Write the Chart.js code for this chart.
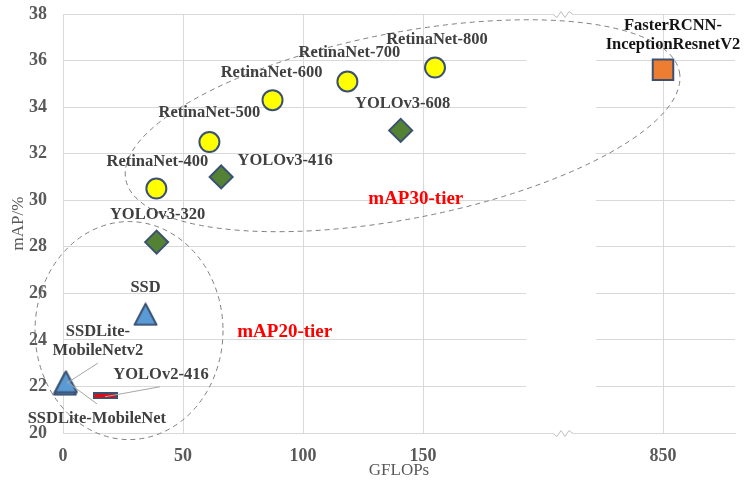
<!DOCTYPE html>
<html>
<head>
<meta charset="utf-8">
<script src="https://cdn.jsdelivr.net/npm/chart.js@4.4.0/dist/chart.umd.min.js"></script>
<style>
  html, body { margin: 0; padding: 0; background: #fff; }
  #wrap { width: 747px; height: 490px; }
</style>
</head>
<body>
<div id="wrap"><canvas id="chart"></canvas></div>
<script>
// data (GFLOPs, mAP %)
const retinaNames = ['RetinaNet-400', 'RetinaNet-500', 'RetinaNet-600', 'RetinaNet-700', 'RetinaNet-800'];
const retinaGflops = [38.9, 61, 87.3, 118.5, 155];
const retinaMap = [30.5, 32.5, 34.3, 35.1, 35.7];

const yolo3Names = ['YOLOv3-320', 'YOLOv3-416', 'YOLOv3-608'];
const yolo3Gflops = [39, 65.9, 140.7];
const yolo3Map = [28.2, 31.0, 33.0];

const ssdNames = ['SSD', 'SSDLite-MobileNetv2', 'SSDLite-MobileNet'];
const ssdGflops = [34.4, 0.8, 1.2];
const ssdMap = [25.1, 22.1, 22.2];

const yolo2Names = ['YOLOv2-416'];
const yolo2Gflops = [17.5];
const yolo2Map = [21.6];

const frcnnNames = ['FasterRCNN-InceptionResnetV2'];
const frcnnGflops = [850];
const frcnnMap = [35.6];

const xTicks = [0, 50, 100, 150, 850];
const yTicks = [20, 22, 24, 26, 28, 30, 32, 34, 36, 38];

// broken x axis: everything above 200 GFLOPs is shifted left
const BREAK_SHIFT = 600;
const GAP_FROM = 193, GAP_TO = 222;
const toAxis = g => g > 200 ? g - BREAK_SHIFT : g;

const SERIF = "'Liberation Serif', 'Times New Roman', serif";
const EDGE = '#3b5172';

// label placement, pixels relative to the point
const labelSpots = {
  'RetinaNet-400': { dx: 1, dy: -27 },
  'RetinaNet-500': { dx: 0, dy: -29 },
  'RetinaNet-600': { dx: -1, dy: -27 },
  'RetinaNet-700': { dx: 2, dy: -29 },
  'RetinaNet-800': { dx: 2, dy: -28 },
  'YOLOv3-320': { dx: 1, dy: -27 },
  'YOLOv3-416': { dx: 64, dy: -16 },
  'YOLOv3-608': { dx: 2, dy: -27 },
  'SSD': { dx: 0, dy: -27 },
  'SSDLite-MobileNetv2': { dx: 33, dy: -43, lines: ['SSDLite-', 'MobileNetv2'], lead: [33, -21, 2, -1] },
  'SSDLite-MobileNet': { dx: 31, dy: 37, lines: ['SSDLite-MobileNet'], lead: [1, 0, 31, 22] },
  'YOLOv2-416': { dx: 56, dy: -21, lead: [55, -9, 0, 1] },
  'FasterRCNN-InceptionResnetV2': { dx: 10, dy: -35, lines: ['FasterRCNN-', 'InceptionResnetV2'], color: '#151515' }
};

function markerCanvas(w, h, draw) {
  const c = document.createElement('canvas');
  c.width = w; c.height = h;
  draw(c.getContext('2d'), w, h);
  return c;
}

const triangle = markerCanvas(25, 24, (ctx, w, h) => {
  ctx.beginPath();
  ctx.moveTo(1.5, h - 1.5);
  ctx.lineTo(w / 2, 1.5);
  ctx.lineTo(w - 1.5, h - 1.5);
  ctx.closePath();
  ctx.fillStyle = '#5b9bd5';
  ctx.fill();
  ctx.lineWidth = 2;
  ctx.lineJoin = 'round';
  ctx.strokeStyle = EDGE;
  ctx.stroke();
});

const thinBar = markerCanvas(25, 7, (ctx, w, h) => {
  ctx.fillStyle = EDGE;
  ctx.fillRect(0, 0, w, h);
  ctx.fillStyle = '#ff0000';
  ctx.fillRect(2, 2, w - 4, h - 4);
});

const pts = (gf, mp) => gf.map((g, i) => ({ x: toAxis(g), y: mp[i] }));

const groups = [
  { names: retinaNames, data: pts(retinaGflops, retinaMap), pointStyle: 'circle', pointRadius: 10, backgroundColor: '#ffff00' },
  { names: yolo3Names, data: pts(yolo3Gflops, yolo3Map), pointStyle: 'rectRot', pointRadius: 11.5, backgroundColor: '#548235' },
  { names: ssdNames, data: pts(ssdGflops, ssdMap), pointStyle: triangle, pointRadius: 12, backgroundColor: '#5b9bd5' },
  { names: yolo2Names, data: pts(yolo2Gflops, yolo2Map), pointStyle: thinBar, pointRadius: 12, backgroundColor: '#ff0000' },
  { names: frcnnNames, data: pts(frcnnGflops, frcnnMap), pointStyle: 'rect', pointRadius: 14.5, backgroundColor: '#ed7d31' }
];

// dashed tier outlines, centre in data units, radii in pixels
const tiers = [
  { text: 'mAP30-tier', cx: 141.5, cy: 33.2, rx: 282, ry: 93, rot: -11, tx: 147, ty: 30.05 },
  { text: 'mAP20-tier', cx: 27.5, cy: 24.4, rx: 94, ry: 109, rot: 0, tx: 92.4, ty: 24.34 }
];

const breakAndTiers = {
  id: 'breakAndTiers',
  beforeDatasetsDraw(chart) {
    const { ctx, chartArea: a, scales: { x, y } } = chart;
    const x0 = x.getPixelForValue(GAP_FROM), x1 = x.getPixelForValue(GAP_TO);
    ctx.save();
    ctx.fillStyle = '#fff';
    ctx.fillRect(x0, a.top + 1, x1 - x0, a.bottom - a.top - 1);
    // zigzag marks on the top and bottom lines
    const zc = (x0 + x1) / 2 + 2;
    [a.top + 0.5, a.bottom + 0.5].forEach(ly => {
      ctx.fillStyle = '#fff';
      ctx.fillRect(zc - 10, ly - 0.5, 20, 1);
      ctx.beginPath();
      ctx.moveTo(zc - 10, ly);
      ctx.lineTo(zc - 6, ly + 3);
      ctx.lineTo(zc - 2, ly - 3);
      ctx.lineTo(zc + 2, ly + 3);
      ctx.lineTo(zc + 6, ly - 3);
      ctx.lineTo(zc + 10, ly);
      ctx.strokeStyle = '#bfbfbf';
      ctx.lineWidth = 1;
      ctx.stroke();
    });

    ctx.setLineDash([5, 4]);
    ctx.strokeStyle = '#7f7f7f';
    ctx.lineWidth = 1;
    tiers.forEach(t => {
      ctx.beginPath();
      ctx.ellipse(x.getPixelForValue(t.cx), y.getPixelForValue(t.cy), t.rx, t.ry, t.rot * Math.PI / 180, 0, Math.PI * 2);
      ctx.stroke();
    });
    ctx.restore();
  },
  afterDatasetsDraw(chart) {
    const { ctx, scales: { x, y } } = chart;
    ctx.save();
    ctx.textAlign = 'center';
    ctx.textBaseline = 'middle';

    chart.data.datasets.forEach((ds, di) => {
      const meta = chart.getDatasetMeta(di);
      ds.names.forEach((name, i) => {
        const spot = labelSpots[name];
        const p = meta.data[i];
        if (spot.lead) {
          ctx.beginPath();
          ctx.moveTo(p.x + spot.lead[0], p.y + spot.lead[1]);
          ctx.lineTo(p.x + spot.lead[2], p.y + spot.lead[3]);
          ctx.strokeStyle = '#a6a6a6';
          ctx.lineWidth = 1;
          ctx.stroke();
        }
        const lines = spot.lines || [name];
        ctx.font = 'bold 16.5px ' + SERIF;
        ctx.fillStyle = spot.color || '#404040';
        lines.forEach((ln, k) => {
          const off = (k - (lines.length - 1) / 2) * 19;
          ctx.fillText(ln, p.x + spot.dx, p.y + spot.dy + off);
        });
      });
    });

    ctx.font = 'bold 19px ' + SERIF;
    ctx.fillStyle = '#ff0000';
    tiers.forEach(t => ctx.fillText(t.text, x.getPixelForValue(t.tx), y.getPixelForValue(t.ty)));
    ctx.restore();
  }
};

new Chart(document.getElementById('chart'), {
  type: 'scatter',
  data: {
    datasets: groups.map(g => ({
      names: g.names,
      data: g.data,
      pointStyle: g.pointStyle,
      pointRadius: g.pointRadius,
      backgroundColor: g.backgroundColor,
      borderColor: EDGE,
      borderWidth: 2,
      clip: false
    }))
  },
  options: {
    responsive: true,
    maintainAspectRatio: false,
    animation: false,
    events: [],
    layout: { autoPadding: false, padding: { top: 14, right: 12, left: 0, bottom: 0 } },
    plugins: { legend: { display: false }, tooltip: { enabled: false } },
    scales: {
      x: {
        type: 'linear',
        min: 0,
        max: 280,
        afterBuildTicks: s => { s.ticks = xTicks.map(v => ({ value: toAxis(v) })); },
        afterFit: s => { s.height = 57; s.paddingLeft = 0; s.paddingRight = 0; },
        ticks: {
          callback: (v, i) => xTicks[i],
          color: '#595959',
          font: { family: SERIF, size: 18, weight: 'bold' },
          padding: 13,
          maxRotation: 0,
          autoSkip: false
        },
        grid: { color: '#d9d9d9', drawTicks: false },
        border: { color: '#d9d9d9' },
        title: {
          display: true,
          text: 'GFLOPs',
          color: '#595959',
          font: { family: SERIF, size: 17 },
          padding: { top: 0, bottom: 9 }
        }
      },
      y: {
        min: 20,
        max: 38,
        afterBuildTicks: s => { s.ticks = yTicks.map(v => ({ value: v })); },
        afterFit: s => { s.width = 63; s.paddingTop = 0; s.paddingBottom = 0; },
        ticks: {
          color: '#595959',
          font: { family: SERIF, size: 18, weight: 'bold' },
          padding: 16
        },
        grid: { color: '#d9d9d9', drawTicks: false },
        border: { color: '#d9d9d9' },
        title: {
          display: true,
          text: 'mAP/%',
          color: '#595959',
          font: { family: SERIF, size: 17 },
          padding: { top: 8, bottom: 4 }
        }
      }
    }
  },
  plugins: [breakAndTiers]
});
</script>
</body>
</html>
